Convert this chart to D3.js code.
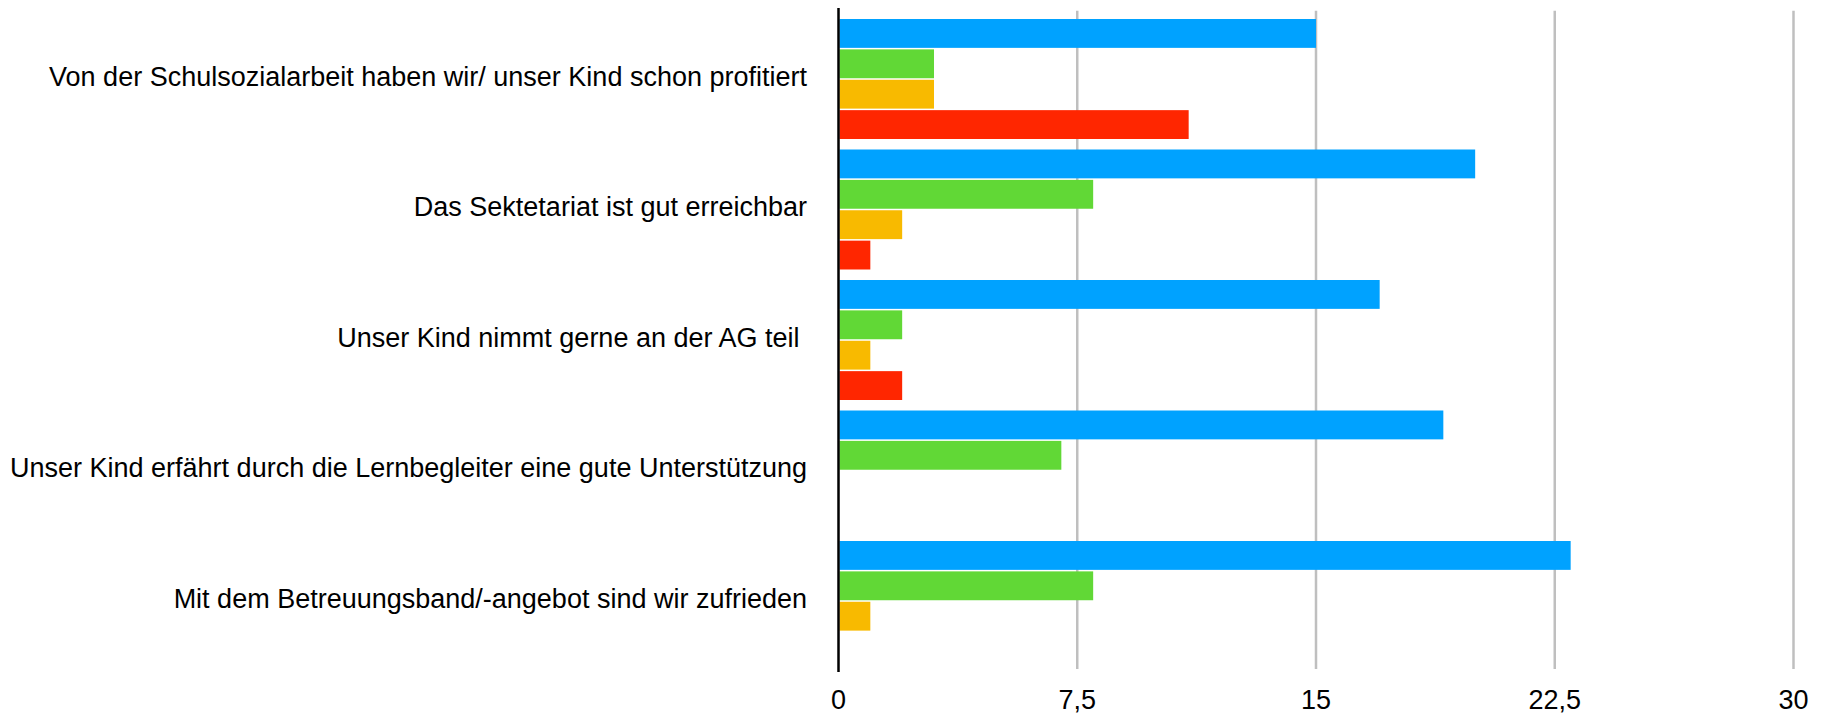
<!DOCTYPE html>
<html>
<head>
<meta charset="utf-8">
<script src="https://cdn.jsdelivr.net/npm/d3@7"></script>
<style>
    body { margin: 0; background: #fff; }
    text { font-family: "Liberation Sans", Arial, Helvetica, sans-serif; white-space: pre; }
</style>
</head>
<body>
<div id="chart"></div>
<script>
var width = 1821;
var height = 715;

// categories, top to bottom
var categories = [
    "Von der Schulsozialarbeit haben wir/ unser Kind schon profitiert",
    "Das Sektetariat ist gut erreichbar",
    "Unser Kind nimmt gerne an der AG teil ",
    "Unser Kind erfährt durch die Lernbegleiter eine gute Unterstützung",
    "Mit dem Betreuungsband/-angebot sind wir zufrieden"
];
var seriesNames = ["trifft zu", "trifft eher zu", "trifft eher nicht zu", "trifft nicht zu"];
var seriesColors = ["#00A2FF", "#61D836", "#F8BA00", "#FF2600"];

var trifftZu = [15, 20, 17, 19, 23];
var eherZu = [3, 8, 2, 7, 8];
var eherNicht = [3, 2, 1, 0, 1];
var nichtZu = [11, 1, 2, 0, 0];
var seriesValues = [trifftZu, eherZu, eherNicht, nichtZu];

var tickValues = [0, 7.5, 15, 22.5, 30];

var x0 = 838.5;
var x1 = 1793.5;
var plotTop = 8.5;
var plotBottom = 661;

var svg = d3.select("#chart").append("svg")
    .attr("width", width)
    .attr("height", height);

var x = d3.scaleLinear().domain([0, 30]).range([x0, x1]);
var y = d3.scaleBand().domain(categories).range([plotTop, plotBottom]);
var ySub = d3.scaleBand().domain(d3.range(seriesNames.length))
    .range([10.5, y.bandwidth()]).paddingInner(0.05);

// gridlines (also act as ticks)
svg.selectAll("line.grid")
    .data(tickValues.filter(d => d > 0)).enter().append("line")
    .attr("class", "grid")
    .attr("x1", d => x(d)).attr("x2", d => x(d))
    .attr("y1", 10.7).attr("y2", 669)
    .style("stroke", "#BFBFBF").style("stroke-width", "2.5px");

// bars
var rows = [];
categories.forEach((c, i) => {
    seriesValues.forEach((vals, s) => {
        if (vals[i] > 0) rows.push({cat: c, s: s, value: vals[i]});
    });
});

svg.selectAll("rect.bar")
    .data(rows).enter().append("rect")
    .attr("class", "bar")
    .attr("x", x(0) + 1)
    .attr("y", d => y(d.cat) + ySub(d.s))
    .attr("width", d => x(d.value) - x(0) - 1)
    .attr("height", ySub.bandwidth())
    .attr("fill", d => seriesColors[d.s]);

// value axis line
svg.append("line")
    .attr("x1", x(0)).attr("x2", x(0))
    .attr("y1", 8).attr("y2", 672)
    .style("stroke", "#000").style("stroke-width", "2.5px");

// bottom tick labels
svg.selectAll("text.tick")
    .data(tickValues).enter().append("text")
    .attr("class", "tick")
    .attr("x", d => x(d))
    .attr("y", 709)
    .attr("text-anchor", "middle")
    .attr("font-size", "27px")
    .attr("fill", "#000")
    .text(d => String(d).replace(".", ","));

// category labels
svg.selectAll("text.cat")
    .data(categories).enter().append("text")
    .attr("class", "cat")
    .attr("x", 807)
    .attr("y", d => y(d) + y.bandwidth() / 2 + 2.5)
    .attr("dy", "0.35em")
    .attr("text-anchor", "end")
    .attr("font-size", "27px")
    .attr("fill", "#000")
    .text(d => d);
</script>
</body>
</html>
